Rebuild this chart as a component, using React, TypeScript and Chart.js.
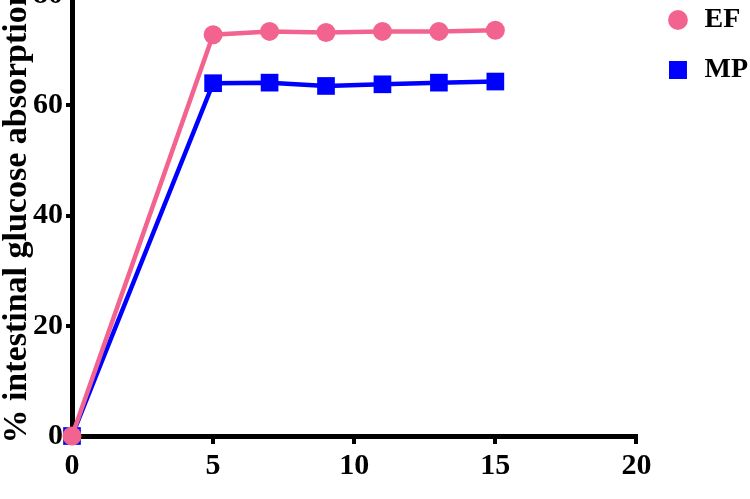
import { useEffect, useRef } from "react";
import { Chart, registerables } from "chart.js";

Chart.register(...registerables);

// ---- data ----
const timePoints = [0, 5, 7, 9, 11, 13, 15];
const efValues = [0, 72.8, 73.4, 73.2, 73.4, 73.4, 73.6];
const mpValues = [0, 64.0, 64.1, 63.5, 63.8, 64.1, 64.3];
const seriesNames = ["EF", "MP"];
const seriesColors = ["#F2648F", "#0000FF"];
const yTitle = "% intestinal glucose absorption";
const xRange = [0, 20];
const xStep = 5;
const yRange = [0, 80];
const yStep = 20;

const FONT = "'Liberation Serif', 'Times New Roman', serif";
const OFFSET_TOP = 23;
const CANVAS_W = 750;
const CANVAS_H = 499 + OFFSET_TOP;

export default function App() {
  const ref = useRef<HTMLCanvasElement | null>(null);

  useEffect(() => {
    const canvas = ref.current;
    if (!canvas) return;
    const chart = new Chart(canvas, {
      type: "line",
      data: {
        datasets: [
          {
            label: seriesNames[0],
            data: timePoints.map((t, i) => ({ x: t, y: efValues[i] })),
            borderColor: seriesColors[0],
            backgroundColor: seriesColors[0],
            borderWidth: 4.5,
            pointStyle: "circle",
            pointRadius: 9.5,
            pointBorderWidth: 0,
            pointHoverRadius: 9.5,
            tension: 0,
            clip: false,
          },
          {
            label: seriesNames[1],
            data: timePoints.map((t, i) => ({ x: t, y: mpValues[i] })),
            borderColor: seriesColors[1],
            backgroundColor: seriesColors[1],
            borderWidth: 4.5,
            pointStyle: "rect",
            pointRadius: 12.5,
            pointBorderWidth: 0,
            pointHoverRadius: 12.5,
            tension: 0,
            clip: false,
          },
        ],
      },
      options: {
        responsive: false,
        animation: false,
        devicePixelRatio: 1,
        layout: { padding: { left: 0, right: -8, top: 0, bottom: 0 } },
        plugins: {
          tooltip: { enabled: false },
          title: {
            display: true,
            text: "",
            padding: { top: 14, bottom: 0 },
            font: { size: 1, lineHeight: 1 },
          },
          legend: {
            display: true,
            position: "right",
            align: "start",
            labels: {
              usePointStyle: true,
              boxWidth: 25,
              boxHeight: 14,
              padding: 29,
              color: "#000",
              font: { family: FONT, size: 28, weight: "bold", lineHeight: 0.75 },
              generateLabels: (c: any) =>
                Chart.defaults.plugins.legend.labels
                  .generateLabels(c)
                  .map((item: any, i: number) => ({
                    ...item,
                    text: [item.text],
                    lineWidth: i === 1 ? 4 : 0,
                    strokeStyle: seriesColors[i],
                    fillStyle: seriesColors[i],
                  })),
            },
          },
        },
        scales: {
          x: {
            type: "linear",
            min: xRange[0],
            max: xRange[1],
            ticks: {
              stepSize: xStep,
              color: "#000",
              padding: 4,
              font: { family: FONT, size: 30, weight: "bold", lineHeight: 1.2 },
            },
            grid: {
              drawOnChartArea: false,
              drawTicks: true,
              tickLength: 8,
              tickWidth: 4,
              tickColor: "#000",
              color: "#000",
              lineWidth: 4,
            },
            border: { display: true, color: "#000", width: 5 },
            afterFit: (s: any) => {
              s.height = 63;
            },
          },
          y: {
            type: "linear",
            min: yRange[0],
            max: yRange[1],
            ticks: {
              stepSize: yStep,
              color: "#000",
              padding: 3,
              font: { family: FONT, size: 30, weight: "bold", lineHeight: 1 },
            },
            grid: {
              drawOnChartArea: false,
              drawTicks: true,
              tickLength: 6,
              tickWidth: 4,
              tickColor: "#000",
              color: "#000",
              lineWidth: 4,
            },
            border: { display: true, color: "#000", width: 5 },
            title: {
              display: true,
              text: yTitle,
              color: "#000",
              padding: 0,
              font: { family: FONT, size: 34, weight: "bold", lineHeight: 1 },
            },
            afterFit: (s: any) => {
              s.width = 72;
            },
          },
        },
      } as any,
    });
    return () => chart.destroy();
  }, []);

  return (
    <canvas
      ref={ref}
      width={CANVAS_W}
      height={CANVAS_H}
      style={{
        position: "absolute",
        left: 0,
        top: -OFFSET_TOP,
        width: CANVAS_W,
        height: CANVAS_H,
        background: "#fff",
      }}
    />
  );
}
